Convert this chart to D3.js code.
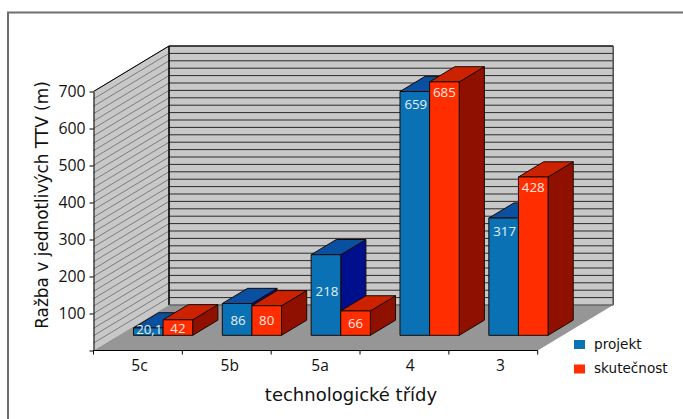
<!DOCTYPE html>
<html>
<head>
<meta charset="utf-8">
<script src="https://cdn.jsdelivr.net/npm/d3@7"></script>
<style>
  html, body { margin: 0; padding: 0; background: #fff; }
  svg { display: block; }
</style>
</head>
<body>
<div id="chart"></div>
<script>
// Data
var categories = ["5c", "5b", "5a", "4", "3"];
var projekt = [20.1, 86, 218, 659, 317];
var skutecnost = [42, 80, 66, 685, 428];
var projektLabels = ["20,1", "86", "218", "659", "317"];
var skutecnostLabels = ["42", "80", "66", "685", "428"];
var yTicks = [0, 100, 200, 300, 400, 500, 600, 700];
var gridValues = d3.range(0, 701, 20);

var svgWidth = 683;
var svgHeight = 419;

// 3D box of the plot: front edge of the floor, and how far the back wall is pushed
var plot = { left: 93.5, right: 537.7, top: 91.5, bottom: 350.5 };
var depthX = 75.5;
var depthY = -45.5;

var colors = {
    wall: "#c8c8c8",
    floor: "#969696",
    blue: "#0a72b4", blueTop: "#0a50a0", blueSide: "#00108c",
    red: "#ff2d00", redTop: "#cc2200", redSide: "#901000"
};

var svg = d3.select("#chart")
    .append("svg")
    .attr("width", svgWidth)
    .attr("height", svgHeight);

var x = d3.scaleBand()
    .domain(categories)
    .range([plot.left, plot.right]);

var y = d3.scaleLinear()
    .domain([0, 700])
    .range([plot.bottom, plot.top]);

// outer frame, only top and left show in the picture
svg.append("path")
    .attr("d", "M8,419V12.5H683")
    .attr("fill", "none")
    .attr("stroke", "#6e6e6e")
    .attr("stroke-width", 2);

function poly(parent, pts, fill, stroke, sw) {
    return parent.append("polygon")
        .attr("points", pts.map(function (p) { return p.join(","); }).join(" "))
        .attr("fill", fill)
        .attr("stroke", stroke || "none")
        .attr("stroke-width", sw || 1);
}

// walls and floor
var walls = svg.append("g");
var y0 = y(0), yMax = y(700);
poly(walls, [[plot.left, y0], [plot.left + depthX, y0 + depthY], [plot.left + depthX, yMax + depthY], [plot.left, yMax]], colors.wall);
poly(walls, [[plot.left + depthX, y0 + depthY], [plot.right + depthX, y0 + depthY], [plot.right + depthX, yMax + depthY], [plot.left + depthX, yMax + depthY]], colors.wall);
poly(walls, [[plot.left, y0], [plot.right, y0], [plot.right + depthX, y0 + depthY], [plot.left + depthX, y0 + depthY]], colors.floor);

// gridlines every 20 m on both walls
walls.selectAll(".gridBack")
    .data(gridValues.slice(1))
    .enter()
    .append("line")
    .attr("x1", plot.left + depthX)
    .attr("x2", plot.right + depthX)
    .attr("y1", function (d) { return y(d) + depthY; })
    .attr("y2", function (d) { return y(d) + depthY; })
    .attr("stroke", "#2a2a2a")
    .attr("stroke-width", 1);

walls.selectAll(".gridSide")
    .data(gridValues.slice(1))
    .enter()
    .append("line")
    .attr("x1", plot.left)
    .attr("x2", plot.left + depthX)
    .attr("y1", function (d) { return y(d); })
    .attr("y2", function (d) { return y(d) + depthY; })
    .attr("stroke", "#5a5a5a")
    .attr("stroke-width", 0.7);

// wall edges
walls.append("path")
    .attr("d", "M" + (plot.left + depthX) + "," + (yMax + depthY) + "V" + (y0 + depthY))
    .attr("stroke", "#000").attr("stroke-width", 1.6).attr("fill", "none");
walls.append("path")
    .attr("d", "M" + plot.left + "," + yMax + "L" + (plot.left + depthX) + "," + (yMax + depthY) + "H" + (plot.right + depthX))
    .attr("stroke", "#000").attr("stroke-width", 1).attr("fill", "none");
walls.append("path")
    .attr("d", "M" + (plot.right + depthX) + "," + (yMax + depthY) + "V" + (y0 + depthY))
    .attr("stroke", "#555").attr("stroke-width", 1.6).attr("fill", "none");
walls.append("path")
    .attr("d", "M" + (plot.left + depthX) + "," + (y0 + depthY) + "H" + (plot.right + depthX))
    .attr("stroke", "#666").attr("stroke-width", 1.6).attr("fill", "none");

// bars sit in the middle third of the depth
var barDX = depthX / 3;
var barDY = depthY / 3;
var barWidth = x.bandwidth() / 3;

function drawBar(parent, left, value, front, topc, side) {
    var base = y(0) + barDY;
    var top = y(value) + barDY;
    var l = left + barDX, r = l + barWidth;
    var edge = "#1a0a05";
    poly(parent, [[r, base], [r + barDX, base + barDY], [r + barDX, top + barDY], [r, top]], side, edge);
    poly(parent, [[l, top], [r, top], [r + barDX, top + barDY], [l + barDX, top + barDY]], topc, edge);
    poly(parent, [[l, top], [r, top], [r, base], [l, base]], front, edge);
}

var bars = svg.append("g");
categories.forEach(function (c, i) {
    var start = x(c) + barWidth / 2;
    drawBar(bars, start, projekt[i], colors.blue, colors.blueTop, colors.blueSide);
    drawBar(bars, start + barWidth, skutecnost[i], colors.red, colors.redTop, colors.redSide);
});

// data labels, moved by hand in the original so each has its own drop from the bar top
var projektDrop = [6.5, 21.5, 41.5, 17.9, 18];
var skutecnostDrop = [13.2, 19.3, 17.4, 15.5, 15.5];
var labelGroup = svg.append("g")
    .attr("font-family", "'Open Sans', sans-serif")
    .attr("font-size", 13.3)
    .attr("text-anchor", "middle");

categories.forEach(function (c, i) {
    var start = x(c) + barWidth / 2 + barDX;
    labelGroup.append("text")
        .attr("x", start + barWidth / 2 + 1)
        .attr("y", y(projekt[i]) + barDY + projektDrop[i])
        .attr("fill", "#e4f0f8")
        .text(projektLabels[i]);
    labelGroup.append("text")
        .attr("x", start + barWidth * 1.5)
        .attr("y", y(skutecnost[i]) + barDY + skutecnostDrop[i])
        .attr("fill", "#ffe8e0")
        .text(skutecnostLabels[i]);
});

// y axis
var yAxis = svg.append("g")
    .attr("transform", "translate(" + plot.left + ",0)")
    .call(d3.axisLeft(y)
        .tickValues(yTicks)
        .tickSize(4)
        .tickSizeOuter(0)
        .tickPadding(4)
        .tickFormat(function (d) { return d === 0 ? "" : d; }));
yAxis.selectAll("text")
    .attr("font-family", "'Open Sans', sans-serif")
    .attr("font-size", 15.8)
    .attr("fill", "#111");

// x axis baseline + ticks on category boundaries
var xAxisLine = svg.append("g");
xAxisLine.append("line")
    .attr("x1", plot.left).attr("x2", plot.right)
    .attr("y1", plot.bottom).attr("y2", plot.bottom)
    .attr("stroke", "#000");
xAxisLine.selectAll(".tick")
    .data(categories.concat(["end"]))
    .enter()
    .append("line")
    .attr("x1", function (d) { return d === "end" ? plot.right : x(d); })
    .attr("x2", function (d) { return d === "end" ? plot.right : x(d); })
    .attr("y1", plot.bottom)
    .attr("y2", plot.bottom + 4)
    .attr("stroke", "#000");

// category labels do not quite follow the ticks in the original
var labelX = d3.scalePoint()
    .domain(categories)
    .range([139, 500]);
var xAxis = svg.append("g")
    .attr("transform", "translate(0," + (plot.bottom + 6) + ")")
    .call(d3.axisBottom(labelX).tickSize(0).tickPadding(3));
xAxis.select(".domain").remove();
xAxis.selectAll("text")
    .attr("font-family", "'Open Sans', sans-serif")
    .attr("font-size", 15.5)
    .attr("fill", "#111");

// axis titles
svg.append("text")
    .attr("transform", "translate(47.5,205) rotate(-90)")
    .attr("text-anchor", "middle")
    .attr("font-family", "'DejaVu Sans', sans-serif")
    .attr("font-size", 16.9)
    .attr("fill", "#111")
    .text("Ražba v jednotlivých TTV (m)");

svg.append("text")
    .attr("x", 351)
    .attr("y", 400.5)
    .attr("text-anchor", "middle")
    .attr("font-family", "'DejaVu Sans', sans-serif")
    .attr("font-size", 18)
    .attr("fill", "#111")
    .text("technologické třídy");

// legend
var legendNames = ["projekt", "skutečnost"];
var legendColors = [colors.blue, colors.red];
var legend = svg.append("g")
    .selectAll("g")
    .data(legendNames)
    .enter()
    .append("g")
    .attr("transform", function (d, i) { return "translate(574," + (340 + i * 24.5) + ")"; });
legend.append("rect")
    .attr("width", 11)
    .attr("height", 9)
    .attr("fill", function (d, i) { return legendColors[i]; });
legend.append("text")
    .attr("x", 20)
    .attr("y", 8.5)
    .attr("font-family", "'DejaVu Sans', sans-serif")
    .attr("font-size", 13.6)
    .attr("fill", "#111")
    .text(function (d) { return d; });
</script>
</body>
</html>
